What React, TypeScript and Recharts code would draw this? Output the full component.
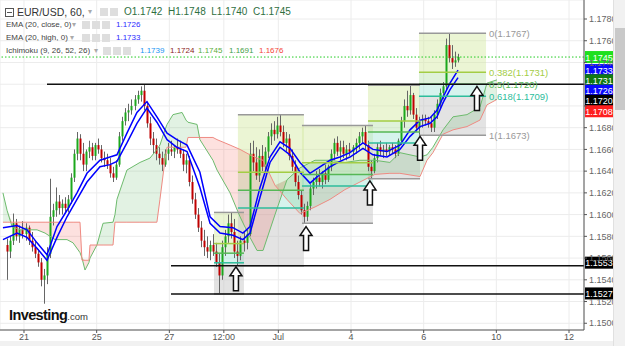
import React from 'react';
import {
  ComposedChart, Bar, Line, Area, XAxis, YAxis, CartesianGrid,
  ReferenceLine, ReferenceArea, ReferenceDot,
} from 'recharts';

// EUR/USD hourly chart, redrawn with 2-hour bars.
// x unit = trading hours since Jun 21 00:00
const opens = [
  1.1572, 1.1566, 1.1576, 1.1592, 1.1580, 1.1586, 1.1582, 1.1588, 1.1576, 1.1570,
  1.1564, 1.1556, 1.1540, 1.1544, 1.1564, 1.1598, 1.1604, 1.1612, 1.1606, 1.1610,
  1.1606, 1.1614, 1.1634, 1.1656, 1.1670, 1.1656, 1.1646, 1.1658, 1.1662, 1.1654,
  1.1664, 1.1660, 1.1652, 1.1650, 1.1646, 1.1638, 1.1634, 1.1646, 1.1672, 1.1686,
  1.1694, 1.1696, 1.1700, 1.1706, 1.1710, 1.1714, 1.1700, 1.1684, 1.1670, 1.1664,
  1.1656, 1.1652, 1.1646, 1.1656, 1.1660, 1.1658, 1.1662, 1.1660, 1.1656, 1.1646,
  1.1650, 1.1630, 1.1614, 1.1600, 1.1588, 1.1576, 1.1570, 1.1566, 1.1572, 1.1566,
  1.1556, 1.1544, 1.1570, 1.1580, 1.1592, 1.1584, 1.1566, 1.1562, 1.1576, 1.1574,
  1.1582, 1.1656, 1.1648, 1.1636, 1.1654, 1.1644, 1.1658, 1.1672, 1.1678, 1.1674,
  1.1682, 1.1676, 1.1666, 1.1670, 1.1654, 1.1644, 1.1630, 1.1618, 1.1604, 1.1598,
  1.1608, 1.1624, 1.1630, 1.1634, 1.1630, 1.1638, 1.1632, 1.1644, 1.1656, 1.1666,
  1.1658, 1.1662, 1.1656, 1.1660, 1.1658, 1.1662, 1.1666, 1.1672, 1.1676, 1.1664,
  1.1644, 1.1640, 1.1652, 1.1662, 1.1658, 1.1660, 1.1658, 1.1662, 1.1660, 1.1656,
  1.1668, 1.1686, 1.1700, 1.1696, 1.1710, 1.1692, 1.1680, 1.1686, 1.1688, 1.1686,
  1.1684, 1.1680, 1.1692, 1.1702, 1.1712, 1.1718, 1.1756, 1.1744, 1.1740, 1.1742,
];
const highs = [
  1.1578, 1.1580, 1.1601, 1.1596, 1.1590, 1.1594, 1.1592, 1.1590, 1.1584, 1.1576,
  1.1568, 1.1560, 1.1550, 1.1570, 1.1633, 1.1610, 1.1625, 1.1618, 1.1614, 1.1616,
  1.1618, 1.1638, 1.1660, 1.1676, 1.1674, 1.1666, 1.1660, 1.1668, 1.1666, 1.1666,
  1.1670, 1.1664, 1.1658, 1.1656, 1.1652, 1.1644, 1.1650, 1.1676, 1.1690, 1.1698,
  1.1702, 1.1706, 1.1710, 1.1714, 1.1718, 1.1720, 1.1704, 1.1690, 1.1676, 1.1670,
  1.1662, 1.1658, 1.1660, 1.1666, 1.1668, 1.1664, 1.1670, 1.1668, 1.1660, 1.1656,
  1.1654, 1.1636, 1.1620, 1.1606, 1.1594, 1.1586, 1.1580, 1.1576, 1.1582, 1.1574,
  1.1564, 1.1576, 1.1586, 1.1600, 1.1602, 1.1596, 1.1576, 1.1580, 1.1584, 1.1586,
  1.1666, 1.1668, 1.1662, 1.1660, 1.1664, 1.1662, 1.1676, 1.1684, 1.1686, 1.1690,
  1.1692, 1.1682, 1.1676, 1.1674, 1.1660, 1.1650, 1.1636, 1.1622, 1.1610, 1.1612,
  1.1628, 1.1634, 1.1640, 1.1642, 1.1640, 1.1646, 1.1646, 1.1660, 1.1670, 1.1672,
  1.1668, 1.1668, 1.1664, 1.1666, 1.1664, 1.1670, 1.1676, 1.1680, 1.1682, 1.1668,
  1.1650, 1.1656, 1.1666, 1.1668, 1.1664, 1.1666, 1.1664, 1.1666, 1.1664, 1.1670,
  1.1690, 1.1706, 1.1714, 1.1719, 1.1712, 1.1698, 1.1690, 1.1692, 1.1692, 1.1690,
  1.1690, 1.1696, 1.1706, 1.1716, 1.1722, 1.1762, 1.1767, 1.1756, 1.1750, 1.1748,
];
const lows = [
  1.1540, 1.1560, 1.1572, 1.1576, 1.1574, 1.1578, 1.1576, 1.1572, 1.1566, 1.1560,
  1.1552, 1.1534, 1.1518, 1.1536, 1.1560, 1.1590, 1.1598, 1.1600, 1.1600, 1.1602,
  1.1602, 1.1610, 1.1630, 1.1650, 1.1650, 1.1640, 1.1640, 1.1652, 1.1650, 1.1650,
  1.1656, 1.1648, 1.1644, 1.1642, 1.1634, 1.1630, 1.1632, 1.1644, 1.1668, 1.1682,
  1.1686, 1.1692, 1.1696, 1.1702, 1.1704, 1.1696, 1.1680, 1.1664, 1.1656, 1.1650,
  1.1646, 1.1640, 1.1644, 1.1650, 1.1654, 1.1652, 1.1656, 1.1652, 1.1640, 1.1638,
  1.1626, 1.1610, 1.1596, 1.1584, 1.1570, 1.1562, 1.1560, 1.1558, 1.1562, 1.1552,
  1.1527, 1.1540, 1.1562, 1.1574, 1.1578, 1.1560, 1.1553, 1.1558, 1.1566, 1.1568,
  1.1580, 1.1640, 1.1632, 1.1630, 1.1640, 1.1638, 1.1652, 1.1664, 1.1668, 1.1670,
  1.1672, 1.1662, 1.1658, 1.1650, 1.1640, 1.1626, 1.1614, 1.1600, 1.1592, 1.1594,
  1.1604, 1.1618, 1.1624, 1.1626, 1.1624, 1.1628, 1.1630, 1.1640, 1.1650, 1.1654,
  1.1650, 1.1652, 1.1650, 1.1654, 1.1650, 1.1656, 1.1660, 1.1666, 1.1660, 1.1640,
  1.1633, 1.1638, 1.1648, 1.1654, 1.1652, 1.1654, 1.1654, 1.1656, 1.1652, 1.1654,
  1.1664, 1.1680, 1.1690, 1.1692, 1.1688, 1.1676, 1.1673, 1.1680, 1.1682, 1.1680,
  1.1676, 1.1676, 1.1688, 1.1698, 1.1706, 1.1714, 1.1740, 1.1734, 1.1736, 1.1740,
];
const closes = [
  1.1566, 1.1576, 1.1592, 1.1580, 1.1586, 1.1582, 1.1588, 1.1576, 1.1570, 1.1564,
  1.1556, 1.1540, 1.1544, 1.1564, 1.1598, 1.1604, 1.1612, 1.1606, 1.1610, 1.1606,
  1.1614, 1.1634, 1.1656, 1.1670, 1.1656, 1.1646, 1.1658, 1.1662, 1.1654, 1.1664,
  1.1660, 1.1652, 1.1650, 1.1646, 1.1638, 1.1634, 1.1646, 1.1672, 1.1686, 1.1694,
  1.1696, 1.1700, 1.1706, 1.1710, 1.1714, 1.1700, 1.1684, 1.1670, 1.1664, 1.1656,
  1.1652, 1.1646, 1.1656, 1.1660, 1.1658, 1.1662, 1.1660, 1.1656, 1.1646, 1.1650,
  1.1630, 1.1614, 1.1600, 1.1588, 1.1576, 1.1570, 1.1566, 1.1572, 1.1566, 1.1556,
  1.1544, 1.1570, 1.1580, 1.1592, 1.1584, 1.1566, 1.1562, 1.1576, 1.1574, 1.1582,
  1.1656, 1.1648, 1.1636, 1.1654, 1.1644, 1.1658, 1.1672, 1.1678, 1.1674, 1.1682,
  1.1676, 1.1666, 1.1670, 1.1654, 1.1644, 1.1630, 1.1618, 1.1604, 1.1598, 1.1608,
  1.1624, 1.1630, 1.1634, 1.1630, 1.1638, 1.1632, 1.1644, 1.1656, 1.1666, 1.1658,
  1.1662, 1.1656, 1.1660, 1.1658, 1.1662, 1.1666, 1.1672, 1.1676, 1.1664, 1.1644,
  1.1640, 1.1652, 1.1662, 1.1658, 1.1660, 1.1658, 1.1662, 1.1660, 1.1656, 1.1668,
  1.1686, 1.1700, 1.1696, 1.1710, 1.1692, 1.1680, 1.1686, 1.1688, 1.1686, 1.1684,
  1.1680, 1.1692, 1.1702, 1.1712, 1.1718, 1.1756, 1.1744, 1.1740, 1.1742, 1.1745,
];

// EMA(20) lines read at sample hours
const emaHours = [
  -13.9, -4.6, 2, 8.6, 15.2, 21.8, 28.4, 35, 41.6, 50.2, 56.8, 61.4, 68, 74.6, 81.2, 87.8,
  94.5, 101, 107.7, 116.2, 122.9, 129.5, 138, 144.6, 149.3, 155.9, 162.5, 169.1, 175.7,
  182.3, 188.9, 195.5, 202.1, 208.7, 215.3, 223.9, 230.5, 239.8, 248.3, 255, 261.6, 268.2,
  272.8, 276.8, 281.4, 286.7,
];
const emaHigh = [
  1.1588, 1.1590, 1.1586, 1.1574, 1.1563, 1.1589, 1.1604, 1.1620, 1.1638, 1.1650, 1.1653,
  1.1655, 1.1675, 1.1694, 1.1704, 1.1690, 1.1675, 1.1669, 1.1664, 1.1639, 1.1598, 1.1589,
  1.1588, 1.1583, 1.1589, 1.1625, 1.1653, 1.1667, 1.1661, 1.1648, 1.1638, 1.1644, 1.1650,
  1.1653, 1.1657, 1.1666, 1.1660, 1.1658, 1.1664, 1.1678, 1.1687, 1.1689, 1.1696, 1.1708,
  1.1721, 1.1733,
];
const emaClose = [
  1.1577, 1.1583, 1.1579, 1.1569, 1.1558, 1.1579, 1.1598, 1.1614, 1.1630, 1.1644, 1.1646,
  1.1649, 1.1666, 1.1684, 1.1698, 1.1685, 1.1669, 1.1662, 1.1658, 1.1625, 1.1592, 1.1583,
  1.1581, 1.1577, 1.1583, 1.1616, 1.1648, 1.1662, 1.1655, 1.1639, 1.1629, 1.1637, 1.1644,
  1.1649, 1.1653, 1.1661, 1.1655, 1.1653, 1.1660, 1.1672, 1.1681, 1.1684, 1.1690, 1.1703,
  1.1715, 1.1726,
];

// Ichimoku cloud (lead lines, shifted 26 bars ahead)
const cloudHours = [
  -13.9, -11.2, -7.9, -2.6, 8.6, 13.9, 20.5, 28.4, 32.4, 37, 38.3, 40.3, 42.9, 43.6, 48.2,
  52.2, 58.8, 60.1, 61.4, 68, 76.6, 83.2, 87.8, 89.8, 93.1, 94.5, 98.4, 104.4, 107, 108.3,
  114.3, 116.2, 124.8, 127.5, 136.1, 142.7, 149.3, 153.9, 157.9, 165.8, 173.7, 182.3, 192.2,
  202.1, 212, 221.9, 231.8, 241.7, 248.3, 261.6, 266.2, 270.1, 276.8, 283.4, 292.6, 301.2,
  305.8, 312.4,
];
const senkouA = [
  1.1620, 1.1604, 1.1589, 1.1586, 1.1586, 1.1583, 1.1577, 1.1577, 1.1574, 1.1565,
  1.1560, 1.1549, 1.1556, 1.1560, 1.1572, 1.1592, 1.1593, 1.1600, 1.1614, 1.1641,
  1.1648, 1.1652, 1.1660, 1.1664, 1.1678, 1.1683, 1.1692, 1.1694, 1.1687, 1.1685,
  1.1683, 1.1669, 1.1650, 1.1641, 1.1620, 1.1598, 1.1579, 1.1567, 1.1567, 1.1600,
  1.1632, 1.1643, 1.1650, 1.1650, 1.1648, 1.1650, 1.1650, 1.1648, 1.1657, 1.1653,
  1.1655, 1.1662, 1.1678, 1.1690, 1.1692, 1.1699, 1.1721, 1.1724,
];
const senkouB = [
  1.1593, 1.1593, 1.1593, 1.1593, 1.1593, 1.1593, 1.1593, 1.1593, 1.1593, 1.1593,
  1.1558, 1.1558, 1.1558, 1.1572, 1.1572, 1.1572, 1.1572, 1.1593, 1.1593, 1.1593,
  1.1593, 1.1593, 1.1593, 1.1614, 1.1650, 1.1662, 1.1662, 1.1662, 1.1662, 1.1671,
  1.1671, 1.1671, 1.1671, 1.1669, 1.1664, 1.1660, 1.1655, 1.1652, 1.1650, 1.1627,
  1.1614, 1.1601, 1.1607, 1.1614, 1.1623, 1.1630, 1.1637, 1.1638, 1.1638, 1.1635,
  1.1650, 1.1657, 1.1674, 1.1678, 1.1681, 1.1687, 1.1701, 1.1706,
];

// Fibonacci retracements
const fibLevels = [0, 0.382, 0.5, 0.618, 1];
const fibStart = [125.5, 141.3, 183.6, 227.2, 260.9];
const fibEnd = [145.3, 184.9, 230.5, 261.6, 305.2];
const fibHigh = [1.1602, 1.1692, 1.1682, 1.1719, 1.1767];
const fibLow = [1.1527, 1.1553, 1.1592, 1.1633, 1.1673];

// support / resistance lines
const levelPrices = [1.1720, 1.1553, 1.1527];
const levelStart = [15.2, 97.1, 97.1];

// up arrows (tip at price)
const arrowHours = [140, 186.3, 228.5, 261.6, 299.2];
const arrowTips = [1.1552, 1.1589, 1.1631, 1.1672, 1.1718];

// price tags on the right axis
const tagPrices = [1.1745, 1.1733, 1.1731, 1.1726, 1.1720, 1.1708, 1.1553, 1.1527];
const tagColors = ['#1ee01e', '#0a0aff', '#117a11', '#0a0aff', '#000000', '#ff1f1f', '#000000', '#000000'];
const tagShift = [0, 0, 8, 13, 16.5, 14, -3, -0.5];

const xTicks = [0, 48, 96, 132, 168, 216, 264, 312, 360];
const xLabels = ['21', '25', '27', '12:00', 'Jul', '4', '6', '10', '12'];
const yTicks = Array.from({ length: 15 }, (_, i) => 1.15 + i * 0.002);
// tick labels fully covered by the price tags
const hiddenTicks = ['1.1720', '1.1700'];

const candles = closes.map((c, i) => ({
  h: -11 + 2 * i, open: opens[i], high: highs[i], low: lows[i], close: c,
}));
const emaData = emaHours.map((h, i) => ({ h, hi: emaHigh[i], cl: emaClose[i] }));
const cloudData = cloudHours.map((h, i) => ({ h, a: senkouA[i], b: senkouB[i] }));

const FONT = '"Liberation Sans", Arial, sans-serif';

const Candle = (props: any) => {
  const { x, y, width, height, payload } = props;
  if (!payload || height == null) return null;
  const { open, close, high, low } = payload;
  const cx = Math.round(x + width / 2) + 0.5;
  const k = height / (high - low || 1e-9);
  const top = y + (high - Math.max(open, close)) * k;
  const bh = Math.max(1, Math.abs(open - close) * k);
  const up = close >= open;
  return (
    <g>
      <line x1={cx} x2={cx} y1={y} y2={y + height} stroke="#666" strokeWidth={1} />
      <rect x={cx - 1} y={top} width={2} height={bh} fill={up ? '#1ca81c' : '#c00000'} />
    </g>
  );
};

const UpArrow = ({ cx, cy }: any) => (
  <path
    d={`M${cx},${cy} L${cx + 6},${cy + 9} L${cx + 2.5},${cy + 9} L${cx + 2.5},${cy + 24} L${cx - 2.5},${cy + 24} L${cx - 2.5},${cy + 9} L${cx - 6},${cy + 9} Z`}
    fill="#fff" stroke="#111" strokeWidth={1.5}
  />
);

const PriceTag = ({ viewBox, text, color, shift }: any) => {
  if (!viewBox) return null;
  const x = viewBox.x + viewBox.width + 1;
  const y = viewBox.y + shift;
  return (
    <g>
      <rect x={x} y={y - 6} width={28} height={12} fill={color} />
      <text x={x + 14} y={y + 3.5} textAnchor="middle" fontSize={9} fill="#fff" fontFamily={FONT}>{text}</text>
    </g>
  );
};

const fibLineColors = ['#999999', '#a3cd45', '#56b756', '#2dbd9c', '#999999'];
const fibZoneColors = ['#d3e8a0', '#b8e2ae', '#a4e4d8', '#c2c2c2'];

const fibZones = fibHigh.flatMap((hi, i) => {
  const prices = fibLevels.map((l) => hi - l * (hi - fibLow[i]));
  return prices.slice(0, -1).map((p, j) => (
    <ReferenceArea key={`fz${i}-${j}`} x1={fibStart[i]} x2={fibEnd[i]} y1={prices[j + 1]} y2={p}
      fill={fibZoneColors[j]} fillOpacity={0.45} stroke="none" />
  ));
});

const fibLines = fibHigh.flatMap((hi, i) => {
  const last = i === fibHigh.length - 1;
  return fibLevels.map((l, j) => {
    const p = hi - l * (hi - fibLow[i]);
    return (
      <ReferenceLine key={`fl${i}-${j}`} segment={[{ x: fibStart[i], y: p }, { x: fibEnd[i], y: p }]}
        stroke={fibLineColors[j]} strokeWidth={1.5}
        label={last ? { value: `${l}(${p.toFixed(4)})`, position: 'right', fill: fibLineColors[j], fontSize: 9.5, offset: 3 } : undefined} />
    );
  });
});

const Icon = ({ left, top }: { left: number; top: number }) => (
  <div style={{ position: 'absolute', left, top, width: 8, height: 8, background: '#dedede' }} />
);

const Legend = () => {
  const base: React.CSSProperties = { position: 'absolute', whiteSpace: 'nowrap', fontFamily: FONT, lineHeight: 1 };
  const small: React.CSSProperties = { ...base, fontSize: 8, color: '#444' };
  return (
    <div style={{ position: 'absolute', left: 0, top: 0, pointerEvents: 'none' }}>
      <div style={{ position: 'absolute', left: 5, top: 8, width: 7, height: 7, border: '1px solid #555', background: '#fff' }}>
        <div style={{ position: 'absolute', left: 1, top: 3, width: 5, height: 1, background: '#555' }} />
      </div>
      <span style={{ ...base, left: 17, top: 7, fontSize: 10.5, color: '#333' }}>EUR/USD, 60,</span>
      <span style={{ ...base, left: 88, top: 8, fontSize: 8, color: '#aaa' }}>▾</span>
      <Icon left={100} top={8} />
      <Icon left={110} top={8} />
      <span style={{ ...base, left: 124, top: 7, fontSize: 10, color: '#2f6f3f' }}>
        O1.1742&nbsp;&nbsp;H1.1748&nbsp;&nbsp;L1.1740&nbsp;&nbsp;C1.1745
      </span>

      <span style={{ ...small, left: 6, top: 21 }}>EMA (20, close, 0)</span>
      <span style={{ ...small, left: 72, top: 21, color: '#aaa' }}>▾</span>
      <Icon left={82} top={21} /><Icon left={92} top={21} /><Icon left={102} top={21} />
      <span style={{ ...small, left: 116, top: 21, color: '#2b2bff' }}>1.1726</span>

      <span style={{ ...small, left: 6, top: 34 }}>EMA (20, high, 0)</span>
      <span style={{ ...small, left: 70, top: 34, color: '#aaa' }}>▾</span>
      <Icon left={82} top={34} /><Icon left={92} top={34} /><Icon left={102} top={34} />
      <span style={{ ...small, left: 116, top: 34, color: '#2b2bff' }}>1.1733</span>

      <span style={{ ...small, left: 6, top: 47 }}>Ichimoku (9, 26, 52, 26)</span>
      <span style={{ ...small, left: 94, top: 47, color: '#aaa' }}>▾</span>
      <Icon left={103} top={47} /><Icon left={113} top={47} /><Icon left={123} top={47} />
      <span style={{ ...small, left: 140, top: 47, color: '#2196f3' }}>1.1739</span>
      <span style={{ ...small, left: 170, top: 47, color: '#8b1c1c' }}>1.1724</span>
      <span style={{ ...small, left: 198, top: 47, color: '#5cae3c' }}>1.1745</span>
      <span style={{ ...small, left: 229, top: 47, color: '#43a047' }}>1.1691</span>
      <span style={{ ...small, left: 259, top: 47, color: '#f44336' }}>1.1676</span>
    </div>
  );
};

export default function App() {
  return (
    <div style={{ position: 'relative', width: 625, height: 346, background: '#fff', fontFamily: FONT, overflow: 'hidden' }}>
      <style>{'body{margin:0}'}</style>
      <ComposedChart width={625} height={346} data={candles} margin={{ top: 0, right: 0, bottom: 0, left: 0 }}>
        <CartesianGrid stroke="#ececec" />
        <XAxis dataKey="h" type="number" domain={[-15.85, 369.9]} allowDataOverflow ticks={xTicks} interval={0}
          tickFormatter={(v: number) => xLabels[xTicks.indexOf(v)] ?? ''}
          height={16} tickSize={3} tickMargin={1} stroke="#555"
          tick={{ fontSize: 9, fill: '#555' }} />
        <YAxis orientation="right" type="number" domain={[1.14938, 1.17975]} allowDataOverflow ticks={yTicks} interval={0}
          tickFormatter={(v: number) => (hiddenTicks.includes(v.toFixed(4)) ? '' : v.toFixed(4))}
          width={41} tickSize={3} tickMargin={2} stroke="#555"
          tick={{ fontSize: 9, fill: '#666' }} />

        {fibZones}

        <Area data={cloudData} dataKey={(d: any) => (d.a > d.b ? [d.b, d.a] : [d.b, d.b])} stroke="none"
          fill="#4caf50" fillOpacity={0.16} activeDot={false} isAnimationActive={false} />
        <Area data={cloudData} dataKey={(d: any) => (d.b > d.a ? [d.a, d.b] : [d.a, d.a])} stroke="none"
          fill="#f44336" fillOpacity={0.16} activeDot={false} isAnimationActive={false} />
        <Line data={cloudData} dataKey="a" stroke="#6dbb6d" strokeWidth={1} dot={false} activeDot={false} isAnimationActive={false} />
        <Line data={cloudData} dataKey="b" stroke="#ef8a82" strokeWidth={1} dot={false} activeDot={false} isAnimationActive={false} />

        <Line data={emaData} dataKey="hi" stroke="#0000ff" strokeWidth={1.5} dot={false} activeDot={false} isAnimationActive={false} />
        <Line data={emaData} dataKey="cl" stroke="#0000ff" strokeWidth={1.5} dot={false} activeDot={false} isAnimationActive={false} />

        <Bar dataKey={(d: any) => [d.low, d.high]} barSize={3} shape={<Candle />} activeBar={false} isAnimationActive={false} />

        {fibLines}

        {levelPrices.map((p, i) => (
          <ReferenceLine key={`lv${i}`} segment={[{ x: levelStart[i], y: p }, { x: 369.9, y: p }]}
            stroke="#111" strokeWidth={1.5} />
        ))}
        <ReferenceLine y={1.1745} stroke="#22cc22" strokeDasharray="1.5 2" strokeWidth={1} />

        {arrowHours.map((h, i) => (
          <ReferenceDot key={`ar${i}`} x={h} y={arrowTips[i]} r={6} shape={(p: any) => <UpArrow cx={p.cx} cy={p.cy} />} />
        ))}

        {tagPrices.map((p, i) => (
          <ReferenceLine key={`tg${i}`} y={p} stroke="none"
            label={<PriceTag text={p.toFixed(4)} color={tagColors[i]} shift={tagShift[i]} />} />
        ))}
      </ComposedChart>

      <Legend />

      <div style={{ position: 'absolute', left: 9, top: 306, whiteSpace: 'nowrap', color: '#111' }}>
        <span style={{ fontSize: 14.5, fontWeight: 'bold', letterSpacing: -0.6 }}>Investing</span>
        <span style={{ fontSize: 9.5, color: '#333' }}>.com</span>
      </div>

      <div style={{ position: 'absolute', left: 613, top: 0, width: 12, height: 346, background: '#f1f1f1', borderLeft: '1px solid #e0e0e0' }} />
      <div style={{ position: 'absolute', left: 615, top: 28, width: 10, height: 82, background: '#c9c9c9' }} />
      <div style={{ position: 'absolute', left: 0, top: 341, width: 613, height: 5, background: '#f1f1f1' }} />
    </div>
  );
}
